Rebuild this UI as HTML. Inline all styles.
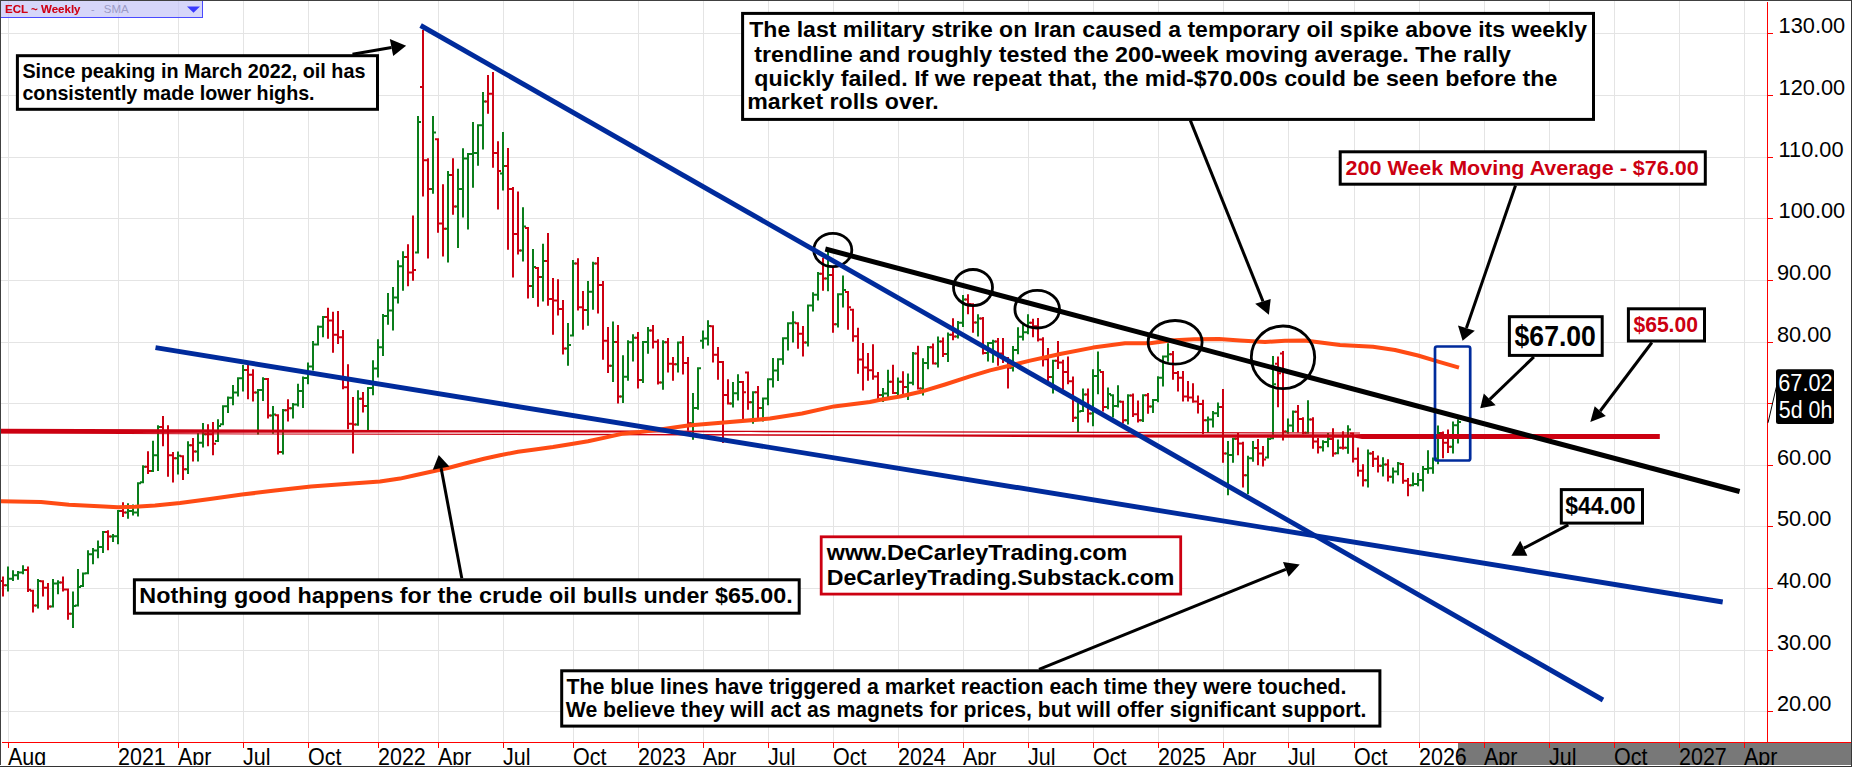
<!DOCTYPE html><html><head><meta charset="utf-8"><title>ECL Weekly</title>
<style>html,body{margin:0;padding:0;background:#fff}body{width:1852px;height:767px;overflow:hidden;position:relative}svg{position:absolute;left:0;top:0;display:block}text{font-family:"Liberation Sans",sans-serif}.b{font-weight:bold}</style></head><body>
<svg width="1852" height="767" viewBox="0 0 1852 767">
<rect x="0" y="0" width="1852" height="767" fill="#fff"/>
<path d="M8.5 1V742M118.5 1V742M178.5 1V742M243.5 1V742M308.5 1V742M378.5 1V742M438.5 1V742M503.5 1V742M573.5 1V742M638.5 1V742M703.5 1V742M768.5 1V742M833.5 1V742M898.5 1V742M963.5 1V742M1028.5 1V742M1093.5 1V742M1158.5 1V742M1223.5 1V742M1288.5 1V742M1354.5 1V742M1419.5 1V742M1484.5 1V742M1549.5 1V742M1614.5 1V742M1679.5 1V742M1744.5 1V742M1 711.5H1767M1 650.5H1767M1 588.5H1767M1 526.5H1767M1 465.5H1767M1 403.5H1767M1 342.5H1767M1 280.5H1767M1 218.5H1767M1 157.5H1767M1 95.5H1767M1 33.5H1767" stroke="#e4e4e4" stroke-width="1" fill="none" shape-rendering="crispEdges"/>
<rect x="1458" y="743" width="394" height="22" fill="#787878"/>
<path d="M7 566.5h2V591.5h-2zM5 584.2h2v2h-2zM9 577.8h2v2h-2zM12 570.2h2V580.9h-2zM10 577.8h2v2h-2zM14 574.2h2v2h-2zM17 570.9h2V579.8h-2zM15 574.2h2v2h-2zM19 571.5h2v2h-2zM22 565.3h2V574.2h-2zM20 571.5h2v2h-2zM24 569.0h2v2h-2zM37 579.1h2V608.6h-2zM35 604.5h2v2h-2zM39 580.0h2v2h-2zM52 579.1h2V607.5h-2zM50 605.5h2v2h-2zM54 582.6h2v2h-2zM57 580.2h2V594.2h-2zM55 582.6h2v2h-2zM59 581.5h2v2h-2zM72 591.5h2V627.9h-2zM70 612.8h2v2h-2zM74 605.1h2v2h-2zM77 569.1h2V606.4h-2zM75 604.4h2v2h-2zM79 586.1h2v2h-2zM82 572.4h2V587.1h-2zM80 585.1h2v2h-2zM84 572.4h2v2h-2zM87 550.3h2V574.2h-2zM85 572.2h2v2h-2zM89 553.3h2v2h-2zM92 548.0h2V564.2h-2zM90 553.3h2v2h-2zM94 549.6h2v2h-2zM97 540.5h2V558.2h-2zM95 549.6h2v2h-2zM99 546.0h2v2h-2zM102 531.0h2V553.1h-2zM100 546.0h2v2h-2zM104 531.0h2v2h-2zM112 533.9h2V542.1h-2zM110 535.6h2v2h-2zM114 535.2h2v2h-2zM117 509.9h2V544.3h-2zM115 535.2h2v2h-2zM119 509.9h2v2h-2zM127 503.3h2V518.8h-2zM125 511.6h2v2h-2zM129 509.9h2v2h-2zM132 504.4h2V515.5h-2zM130 509.9h2v2h-2zM134 511.6h2v2h-2zM137 482.2h2V516.6h-2zM135 511.6h2v2h-2zM139 482.2h2v2h-2zM142 465.2h2V483.3h-2zM140 481.3h2v2h-2zM144 465.7h2v2h-2zM152 440.8h2V472.0h-2zM150 469.9h2v2h-2zM154 454.2h2v2h-2zM157 425.3h2V471.0h-2zM155 454.2h2v2h-2zM159 426.0h2v2h-2zM177 451.4h2V474.4h-2zM175 457.3h2v2h-2zM179 454.8h2v2h-2zM187 441.2h2V474.0h-2zM185 468.2h2v2h-2zM189 444.2h2v2h-2zM197 433.0h2V461.4h-2zM195 450.5h2v2h-2zM199 441.7h2v2h-2zM202 423.0h2V447.5h-2zM200 441.7h2v2h-2zM204 433.3h2v2h-2zM217 419.3h2V441.9h-2zM215 439.9h2v2h-2zM219 425.0h2v2h-2zM222 405.3h2V425.3h-2zM220 423.3h2v2h-2zM224 405.3h2v2h-2zM227 396.5h2V413.1h-2zM225 405.3h2v2h-2zM229 396.8h2v2h-2zM232 384.9h2V405.3h-2zM230 396.8h2v2h-2zM234 391.6h2v2h-2zM237 377.2h2V396.5h-2zM235 391.6h2v2h-2zM239 377.2h2v2h-2zM242 365.0h2V391.4h-2zM240 377.2h2v2h-2zM244 369.0h2v2h-2zM257 389.1h2V434.6h-2zM255 391.6h2v2h-2zM259 389.1h2v2h-2zM262 377.2h2V400.9h-2zM260 389.1h2v2h-2zM264 378.0h2v2h-2zM272 406.0h2V433.7h-2zM270 414.5h2v2h-2zM274 413.5h2v2h-2zM282 409.1h2V454.5h-2zM280 451.0h2v2h-2zM284 409.3h2v2h-2zM292 403.1h2V418.6h-2zM290 407.2h2v2h-2zM294 403.4h2v2h-2zM297 383.8h2V406.4h-2zM295 403.4h2v2h-2zM299 390.0h2v2h-2zM302 376.5h2V408.0h-2zM300 390.0h2v2h-2zM304 376.9h2v2h-2zM307 362.5h2V384.3h-2zM305 376.9h2v2h-2zM309 365.4h2v2h-2zM312 341.0h2V370.5h-2zM310 365.4h2v2h-2zM314 343.5h2v2h-2zM317 325.5h2V345.5h-2zM315 343.5h2v2h-2zM319 325.8h2v2h-2zM322 316.0h2V337.3h-2zM320 325.8h2v2h-2zM324 316.0h2v2h-2zM357 390.2h2V425.7h-2zM355 423.5h2v2h-2zM359 397.8h2v2h-2zM367 386.9h2V430.1h-2zM365 405.1h2v2h-2zM369 386.9h2v2h-2zM372 360.3h2V395.3h-2zM370 386.9h2v2h-2zM374 367.5h2v2h-2zM377 339.2h2V377.6h-2zM375 367.5h2v2h-2zM379 346.2h2v2h-2zM382 314.0h2V355.9h-2zM380 346.2h2v2h-2zM384 314.9h2v2h-2zM387 292.9h2V324.8h-2zM385 314.9h2v2h-2zM389 309.5h2v2h-2zM392 287.0h2V330.6h-2zM390 309.5h2v2h-2zM394 296.5h2v2h-2zM397 260.2h2V303.5h-2zM395 296.5h2v2h-2zM399 265.3h2v2h-2zM402 251.3h2V290.8h-2zM400 265.3h2v2h-2zM404 255.9h2v2h-2zM417 116.0h2V253.5h-2zM415 251.5h2v2h-2zM419 121.0h2v2h-2zM432 116.0h2V193.7h-2zM430 188.1h2v2h-2zM434 131.6h2v2h-2zM447 171.0h2V262.6h-2zM445 227.7h2v2h-2zM449 174.1h2v2h-2zM457 168.8h2V248.0h-2zM455 205.4h2v2h-2zM459 188.1h2v2h-2zM462 148.2h2V217.6h-2zM460 188.1h2v2h-2zM464 157.4h2v2h-2zM467 152.9h2V229.4h-2zM465 157.4h2v2h-2zM469 152.9h2v2h-2zM472 122.0h2V187.7h-2zM470 152.9h2v2h-2zM474 151.9h2v2h-2zM477 124.2h2V165.7h-2zM475 151.9h2v2h-2zM479 124.3h2v2h-2zM482 92.0h2V149.6h-2zM480 124.3h2v2h-2zM484 100.4h2v2h-2zM502 132.0h2V190.6h-2zM500 172.4h2v2h-2zM504 165.1h2v2h-2zM522 207.2h2V261.5h-2zM520 249.6h2v2h-2zM524 225.6h2v2h-2zM532 249.1h2V297.9h-2zM530 285.0h2v2h-2zM534 266.0h2v2h-2zM542 243.8h2V301.5h-2zM540 276.0h2v2h-2zM544 259.9h2v2h-2zM567 323.1h2V365.7h-2zM565 347.6h2v2h-2zM569 344.0h2v2h-2zM572 260.0h2V336.5h-2zM570 334.5h2v2h-2zM574 262.4h2v2h-2zM587 281.0h2V325.8h-2zM585 308.9h2v2h-2zM589 290.8h2v2h-2zM592 261.7h2V309.8h-2zM590 290.8h2v2h-2zM594 262.4h2v2h-2zM612 321.4h2V381.9h-2zM610 364.7h2v2h-2zM614 340.9h2v2h-2zM622 355.3h2V403.0h-2zM620 395.6h2v2h-2zM624 375.7h2v2h-2zM627 340.2h2V380.8h-2zM625 375.7h2v2h-2zM629 341.3h2v2h-2zM632 334.2h2V361.5h-2zM630 341.3h2v2h-2zM634 336.7h2v2h-2zM642 340.9h2V383.0h-2zM640 378.9h2v2h-2zM644 340.9h2v2h-2zM647 327.1h2V353.7h-2zM645 340.9h2v2h-2zM649 329.4h2v2h-2zM662 340.2h2V389.7h-2zM660 381.6h2v2h-2zM664 341.3h2v2h-2zM677 341.6h2V372.6h-2zM675 363.2h2v2h-2zM679 341.6h2v2h-2zM692 393.0h2V439.7h-2zM690 422.2h2v2h-2zM694 407.0h2v2h-2zM697 367.2h2V409.7h-2zM695 407.0h2v2h-2zM699 367.3h2v2h-2zM702 330.4h2V348.7h-2zM700 339.7h2v2h-2zM704 337.4h2v2h-2zM707 320.3h2V345.6h-2zM705 337.4h2v2h-2zM709 324.9h2v2h-2zM732 382.0h2V407.6h-2zM730 402.6h2v2h-2zM734 392.3h2v2h-2zM737 374.2h2V400.6h-2zM735 392.3h2v2h-2zM739 380.9h2v2h-2zM752 391.3h2V423.7h-2zM750 401.3h2v2h-2zM754 391.3h2v2h-2zM762 397.5h2V421.5h-2zM760 407.0h2v2h-2zM764 397.6h2v2h-2zM767 378.2h2V405.3h-2zM765 397.6h2v2h-2zM769 378.2h2v2h-2zM772 358.1h2V387.6h-2zM770 378.2h2v2h-2zM774 369.4h2v2h-2zM777 358.3h2V380.9h-2zM775 369.4h2v2h-2zM779 358.3h2v2h-2zM782 337.2h2V364.7h-2zM780 358.3h2v2h-2zM784 337.2h2v2h-2zM787 322.2h2V350.5h-2zM785 337.2h2v2h-2zM789 322.2h2v2h-2zM792 311.2h2V342.6h-2zM790 322.2h2v2h-2zM794 321.4h2v2h-2zM807 304.6h2V346.4h-2zM805 341.6h2v2h-2zM809 304.6h2v2h-2zM812 292.3h2V311.5h-2zM810 304.6h2v2h-2zM814 293.7h2v2h-2zM817 272.1h2V300.5h-2zM815 293.7h2v2h-2zM819 272.8h2v2h-2zM827 251.5h2V291.2h-2zM825 277.4h2v2h-2zM829 273.9h2v2h-2zM837 293.2h2V327.6h-2zM835 323.3h2v2h-2zM839 293.2h2v2h-2zM842 275.5h2V307.4h-2zM840 293.2h2v2h-2zM844 288.9h2v2h-2zM882 388.1h2V402.0h-2zM880 393.9h2v2h-2zM884 392.6h2v2h-2zM887 369.7h2V398.5h-2zM885 392.6h2v2h-2zM889 380.7h2v2h-2zM897 377.5h2V396.3h-2zM895 392.1h2v2h-2zM899 380.7h2v2h-2zM907 373.5h2V400.0h-2zM905 386.0h2v2h-2zM909 381.8h2v2h-2zM912 352.0h2V385.2h-2zM910 381.8h2v2h-2zM914 352.6h2v2h-2zM922 358.2h2V395.6h-2zM920 387.6h2v2h-2zM924 362.0h2v2h-2zM927 346.0h2V369.2h-2zM925 362.0h2v2h-2zM929 346.3h2v2h-2zM937 336.4h2V367.5h-2zM935 362.6h2v2h-2zM939 340.5h2v2h-2zM947 332.4h2V361.9h-2zM945 353.0h2v2h-2zM949 333.8h2v2h-2zM957 320.9h2V338.6h-2zM955 335.4h2v2h-2zM959 321.7h2v2h-2zM962 295.0h2V326.9h-2zM960 321.7h2v2h-2zM964 298.5h2v2h-2zM977 314.3h2V336.4h-2zM975 321.4h2v2h-2zM979 317.6h2v2h-2zM987 342.0h2V361.5h-2zM985 352.1h2v2h-2zM989 342.0h2v2h-2zM992 339.8h2V362.7h-2zM990 342.0h2v2h-2zM994 340.6h2v2h-2zM1012 346.0h2V371.6h-2zM1010 366.7h2v2h-2zM1014 348.9h2v2h-2zM1017 327.2h2V354.3h-2zM1015 348.9h2v2h-2zM1019 335.8h2v2h-2zM1022 323.9h2V340.5h-2zM1020 335.8h2v2h-2zM1024 331.2h2v2h-2zM1027 314.3h2V334.3h-2zM1025 331.2h2v2h-2zM1029 321.8h2v2h-2zM1052 359.8h2V393.5h-2zM1050 376.1h2v2h-2zM1054 359.8h2v2h-2zM1077 403.0h2V431.9h-2zM1075 416.8h2v2h-2zM1079 410.5h2v2h-2zM1082 388.6h2V411.9h-2zM1080 409.9h2v2h-2zM1084 393.4h2v2h-2zM1092 369.3h2V426.3h-2zM1090 412.6h2v2h-2zM1094 375.0h2v2h-2zM1097 351.4h2V394.2h-2zM1095 375.0h2v2h-2zM1099 369.2h2v2h-2zM1107 387.5h2V409.2h-2zM1105 405.9h2v2h-2zM1109 393.0h2v2h-2zM1112 394.2h2V417.5h-2zM1110 394.2h2v2h-2zM1114 405.0h2v2h-2zM1117 385.3h2V407.5h-2zM1115 405.0h2v2h-2zM1119 400.4h2v2h-2zM1127 394.2h2V424.5h-2zM1125 419.2h2v2h-2zM1129 394.5h2v2h-2zM1142 394.2h2V421.9h-2zM1140 419.2h2v2h-2zM1144 394.2h2v2h-2zM1152 399.0h2V413.1h-2zM1150 405.6h2v2h-2zM1154 399.1h2v2h-2zM1157 376.2h2V402.2h-2zM1155 399.1h2v2h-2zM1159 376.8h2v2h-2zM1162 355.4h2V386.6h-2zM1160 376.8h2v2h-2zM1164 355.4h2v2h-2zM1167 343.2h2V361.8h-2zM1165 355.4h2v2h-2zM1169 353.2h2v2h-2zM1207 416.4h2V432.6h-2zM1205 419.2h2v2h-2zM1209 418.6h2v2h-2zM1212 410.9h2V427.5h-2zM1210 418.6h2v2h-2zM1214 412.3h2v2h-2zM1217 402.5h2V417.1h-2zM1215 412.3h2v2h-2zM1219 406.0h2v2h-2zM1227 441.0h2V495.3h-2zM1225 452.6h2v2h-2zM1229 454.0h2v2h-2zM1232 437.8h2V462.7h-2zM1230 454.0h2v2h-2zM1234 437.8h2v2h-2zM1247 455.8h2V494.2h-2zM1245 474.3h2v2h-2zM1249 457.2h2v2h-2zM1252 441.1h2V461.7h-2zM1250 457.2h2v2h-2zM1254 447.0h2v2h-2zM1267 437.8h2V458.6h-2zM1265 456.6h2v2h-2zM1269 438.0h2v2h-2zM1272 356.1h2V439.2h-2zM1270 437.2h2v2h-2zM1274 383.2h2v2h-2zM1287 418.5h2V433.8h-2zM1285 430.6h2v2h-2zM1289 424.4h2v2h-2zM1292 410.5h2V432.0h-2zM1290 424.4h2v2h-2zM1294 410.8h2v2h-2zM1307 400.3h2V433.8h-2zM1305 431.7h2v2h-2zM1309 418.5h2v2h-2zM1322 440.3h2V451.6h-2zM1320 446.3h2v2h-2zM1324 441.1h2v2h-2zM1327 433.1h2V447.2h-2zM1325 441.1h2v2h-2zM1329 437.9h2v2h-2zM1337 439.5h2V454.2h-2zM1335 452.2h2v2h-2zM1339 446.7h2v2h-2zM1347 425.2h2V453.7h-2zM1345 446.7h2v2h-2zM1349 428.6h2v2h-2zM1367 449.4h2V487.5h-2zM1365 479.3h2v2h-2zM1369 452.6h2v2h-2zM1382 457.2h2V476.5h-2zM1380 464.7h2v2h-2zM1384 463.4h2v2h-2zM1392 467.6h2V483.5h-2zM1390 475.8h2v2h-2zM1394 470.4h2v2h-2zM1397 462.0h2V475.3h-2zM1395 470.4h2v2h-2zM1399 462.6h2v2h-2zM1412 472.6h2V486.3h-2zM1410 484.2h2v2h-2zM1414 482.9h2v2h-2zM1417 473.0h2V486.3h-2zM1415 482.9h2v2h-2zM1419 479.0h2v2h-2zM1422 465.9h2V491.4h-2zM1420 479.0h2v2h-2zM1424 467.9h2v2h-2zM1427 450.2h2V473.7h-2zM1425 467.9h2v2h-2zM1429 467.2h2v2h-2zM1432 457.5h2V473.7h-2zM1430 467.2h2v2h-2zM1434 457.5h2v2h-2zM1437 425.4h2V464.2h-2zM1435 457.5h2v2h-2zM1439 432.0h2v2h-2zM1452 421.4h2V453.5h-2zM1450 445.7h2v2h-2zM1454 424.2h2v2h-2zM1457 419.2h2V443.5h-2zM1455 424.2h2v2h-2zM1459 421.0h2v2h-2z" fill="#0a7d1a"/>
<path d="M2 576.4h2V596.4h-2zM0 580.0h2v2h-2zM4 584.2h2v2h-2zM27 566.5h2V592.0h-2zM25 569.0h2v2h-2zM29 588.8h2v2h-2zM32 589.7h2V612.4h-2zM30 589.7h2v2h-2zM34 604.5h2v2h-2zM42 580.2h2V596.4h-2zM40 580.2h2v2h-2zM44 586.7h2v2h-2zM47 583.1h2V609.7h-2zM45 586.7h2v2h-2zM49 605.5h2v2h-2zM62 576.4h2V591.5h-2zM60 581.5h2v2h-2zM64 588.4h2v2h-2zM67 588.6h2V619.7h-2zM65 588.6h2v2h-2zM69 612.8h2v2h-2zM107 530.3h2V550.3h-2zM105 531.0h2v2h-2zM109 535.6h2v2h-2zM122 502.2h2V517.0h-2zM120 509.9h2v2h-2zM124 511.6h2v2h-2zM147 451.2h2V474.0h-2zM145 465.7h2v2h-2zM149 469.9h2v2h-2zM162 416.0h2V446.3h-2zM160 426.0h2v2h-2zM164 430.2h2v2h-2zM167 425.3h2V476.7h-2zM165 430.2h2v2h-2zM169 454.2h2v2h-2zM172 451.9h2V482.6h-2zM170 454.2h2v2h-2zM174 457.3h2v2h-2zM182 455.2h2V480.0h-2zM180 455.2h2v2h-2zM184 468.2h2v2h-2zM192 438.1h2V461.4h-2zM190 444.2h2v2h-2zM194 450.5h2v2h-2zM207 424.2h2V446.3h-2zM205 433.3h2v2h-2zM209 433.3h2v2h-2zM212 422.0h2V455.2h-2zM210 433.3h2v2h-2zM214 442.7h2v2h-2zM247 365.0h2V399.3h-2zM245 369.0h2v2h-2zM249 373.8h2v2h-2zM252 369.2h2V401.6h-2zM250 373.8h2v2h-2zM254 391.6h2v2h-2zM267 378.0h2V418.6h-2zM265 378.0h2v2h-2zM269 414.5h2v2h-2zM277 414.2h2V454.5h-2zM275 414.2h2v2h-2zM279 451.0h2v2h-2zM287 399.3h2V421.5h-2zM285 409.3h2v2h-2zM289 407.2h2v2h-2zM327 307.8h2V338.8h-2zM325 316.0h2v2h-2zM329 319.5h2v2h-2zM332 311.7h2V352.7h-2zM330 319.5h2v2h-2zM334 333.7h2v2h-2zM337 311.0h2V343.9h-2zM335 333.7h2v2h-2zM339 336.2h2v2h-2zM342 330.0h2V389.3h-2zM340 336.2h2v2h-2zM344 386.3h2v2h-2zM347 364.3h2V429.2h-2zM345 386.3h2v2h-2zM349 422.8h2v2h-2zM352 397.0h2V453.6h-2zM350 422.8h2v2h-2zM354 423.5h2v2h-2zM362 392.0h2V412.6h-2zM360 397.8h2v2h-2zM364 405.1h2v2h-2zM407 244.2h2V286.3h-2zM405 255.9h2v2h-2zM409 271.6h2v2h-2zM412 215.4h2V280.8h-2zM410 271.6h2v2h-2zM414 268.9h2v2h-2zM422 30.0h2V196.5h-2zM420 86.0h2v2h-2zM424 159.3h2v2h-2zM427 158.2h2V258.6h-2zM425 159.3h2v2h-2zM429 188.1h2v2h-2zM437 138.2h2V232.7h-2zM435 138.2h2v2h-2zM439 222.5h2v2h-2zM442 184.3h2V256.4h-2zM440 222.5h2v2h-2zM444 227.7h2v2h-2zM452 158.2h2V214.7h-2zM450 174.1h2v2h-2zM454 205.4h2v2h-2zM487 75.0h2V113.8h-2zM485 100.4h2v2h-2zM489 92.8h2v2h-2zM492 72.1h2V167.8h-2zM490 92.8h2v2h-2zM494 151.9h2v2h-2zM497 141.2h2V209.4h-2zM495 151.9h2v2h-2zM499 169.9h2v2h-2zM507 148.0h2V249.8h-2zM505 165.1h2v2h-2zM509 188.1h2v2h-2zM512 187.0h2V277.5h-2zM510 188.1h2v2h-2zM514 232.9h2v2h-2zM517 191.4h2V254.6h-2zM515 232.9h2v2h-2zM519 249.6h2v2h-2zM527 227.1h2V298.5h-2zM525 227.1h2v2h-2zM529 285.0h2v2h-2zM537 267.0h2V306.7h-2zM535 267.0h2v2h-2zM539 276.0h2v2h-2zM547 233.1h2V305.7h-2zM545 259.9h2v2h-2zM549 298.1h2v2h-2zM552 278.1h2V334.7h-2zM550 298.1h2v2h-2zM554 299.5h2v2h-2zM557 279.2h2V315.4h-2zM555 299.5h2v2h-2zM559 307.9h2v2h-2zM562 299.9h2V354.6h-2zM560 307.9h2v2h-2zM564 347.6h2v2h-2zM577 258.2h2V310.5h-2zM575 262.4h2v2h-2zM579 306.2h2v2h-2zM582 291.0h2V329.8h-2zM580 306.2h2v2h-2zM584 308.9h2v2h-2zM597 257.1h2V313.6h-2zM595 262.4h2v2h-2zM599 283.9h2v2h-2zM602 281.0h2V359.7h-2zM600 283.9h2v2h-2zM604 339.8h2v2h-2zM607 327.1h2V373.0h-2zM605 339.8h2v2h-2zM609 364.7h2v2h-2zM617 324.9h2V403.6h-2zM615 340.9h2v2h-2zM619 395.6h2v2h-2zM637 332.0h2V388.6h-2zM635 336.7h2v2h-2zM639 378.9h2v2h-2zM652 324.9h2V348.6h-2zM650 329.4h2v2h-2zM654 340.7h2v2h-2zM657 339.3h2V384.6h-2zM655 340.7h2v2h-2zM659 381.6h2v2h-2zM667 338.0h2V372.6h-2zM665 341.3h2v2h-2zM669 362.8h2v2h-2zM672 357.1h2V380.8h-2zM670 362.8h2v2h-2zM674 363.2h2v2h-2zM682 336.0h2V374.6h-2zM680 341.6h2v2h-2zM684 362.0h2v2h-2zM687 357.1h2V430.8h-2zM685 362.0h2v2h-2zM689 422.2h2v2h-2zM712 325.2h2V362.6h-2zM710 325.2h2v2h-2zM714 353.7h2v2h-2zM717 347.1h2V379.8h-2zM715 353.7h2v2h-2zM719 361.0h2v2h-2zM722 361.0h2V443.0h-2zM720 361.0h2v2h-2zM724 394.0h2v2h-2zM727 379.3h2V404.6h-2zM725 394.0h2v2h-2zM729 402.6h2v2h-2zM742 380.9h2V419.7h-2zM740 380.9h2v2h-2zM744 391.3h2v2h-2zM747 371.4h2V409.7h-2zM745 371.4h2v2h-2zM749 401.3h2v2h-2zM757 386.0h2V418.2h-2zM755 391.3h2v2h-2zM759 407.0h2v2h-2zM797 322.3h2V348.7h-2zM795 322.3h2v2h-2zM799 332.8h2v2h-2zM802 326.0h2V356.4h-2zM800 332.8h2v2h-2zM804 341.6h2v2h-2zM822 257.7h2V290.7h-2zM820 272.8h2v2h-2zM824 277.4h2v2h-2zM832 266.1h2V332.7h-2zM830 273.9h2v2h-2zM834 323.3h2v2h-2zM847 291.0h2V329.8h-2zM845 291.0h2v2h-2zM849 306.2h2v2h-2zM852 308.7h2V341.7h-2zM850 308.7h2v2h-2zM854 335.2h2v2h-2zM857 327.8h2V373.7h-2zM855 335.2h2v2h-2zM859 358.4h2v2h-2zM862 343.1h2V390.6h-2zM860 358.4h2v2h-2zM864 366.5h2v2h-2zM867 353.1h2V380.8h-2zM865 366.5h2v2h-2zM869 369.3h2v2h-2zM872 344.2h2V379.7h-2zM870 369.3h2v2h-2zM874 375.5h2v2h-2zM877 371.9h2V400.0h-2zM875 375.5h2v2h-2zM879 393.9h2v2h-2zM892 364.8h2V394.1h-2zM890 380.7h2v2h-2zM894 392.1h2v2h-2zM902 371.2h2V395.2h-2zM900 380.7h2v2h-2zM904 386.0h2v2h-2zM917 345.7h2V389.6h-2zM915 352.6h2v2h-2zM919 387.6h2v2h-2zM932 343.5h2V364.6h-2zM930 346.3h2v2h-2zM934 362.6h2v2h-2zM942 337.5h2V357.1h-2zM940 340.5h2v2h-2zM944 353.0h2v2h-2zM952 318.2h2V340.2h-2zM950 333.8h2v2h-2zM954 335.4h2v2h-2zM967 294.3h2V314.3h-2zM965 298.5h2v2h-2zM969 303.0h2v2h-2zM972 303.2h2V332.7h-2zM970 303.2h2v2h-2zM974 321.4h2v2h-2zM982 317.1h2V354.5h-2zM980 317.6h2v2h-2zM984 352.1h2v2h-2zM997 338.0h2V365.8h-2zM995 340.6h2v2h-2zM999 352.5h2v2h-2zM1002 338.0h2V363.1h-2zM1000 352.5h2v2h-2zM1004 357.3h2v2h-2zM1007 356.9h2V388.6h-2zM1005 357.3h2v2h-2zM1009 366.7h2v2h-2zM1032 318.8h2V337.2h-2zM1030 321.8h2v2h-2zM1034 325.3h2v2h-2zM1037 318.1h2V341.6h-2zM1035 325.3h2v2h-2zM1039 338.5h2v2h-2zM1042 337.2h2V366.5h-2zM1040 338.5h2v2h-2zM1044 358.3h2v2h-2zM1047 348.0h2V380.9h-2zM1045 358.3h2v2h-2zM1049 376.1h2v2h-2zM1057 341.0h2V369.1h-2zM1055 359.8h2v2h-2zM1059 361.5h2v2h-2zM1062 359.8h2V389.7h-2zM1060 361.5h2v2h-2zM1064 370.9h2v2h-2zM1067 356.5h2V384.2h-2zM1065 370.9h2v2h-2zM1069 380.3h2v2h-2zM1072 376.4h2V421.9h-2zM1070 380.3h2v2h-2zM1074 416.8h2v2h-2zM1087 388.6h2V422.5h-2zM1085 393.4h2v2h-2zM1089 412.6h2v2h-2zM1102 370.9h2V411.5h-2zM1100 370.9h2v2h-2zM1104 405.9h2v2h-2zM1122 400.8h2V423.4h-2zM1120 400.8h2v2h-2zM1124 419.2h2v2h-2zM1132 393.5h2V417.0h-2zM1130 394.5h2v2h-2zM1134 413.3h2v2h-2zM1137 400.4h2V422.5h-2zM1135 413.3h2v2h-2zM1139 419.2h2v2h-2zM1147 393.1h2V413.7h-2zM1145 394.2h2v2h-2zM1149 405.6h2v2h-2zM1172 351.0h2V379.8h-2zM1170 353.2h2v2h-2zM1174 372.0h2v2h-2zM1177 371.0h2V391.6h-2zM1175 372.0h2v2h-2zM1179 376.8h2v2h-2zM1182 371.0h2V401.6h-2zM1180 376.8h2v2h-2zM1184 395.6h2v2h-2zM1187 381.0h2V401.6h-2zM1185 395.6h2v2h-2zM1189 396.6h2v2h-2zM1192 383.2h2V402.7h-2zM1190 396.6h2v2h-2zM1194 400.4h2v2h-2zM1197 395.4h2V413.5h-2zM1195 400.4h2v2h-2zM1199 402.9h2v2h-2zM1202 399.8h2V434.2h-2zM1200 402.9h2v2h-2zM1204 419.2h2v2h-2zM1222 389.0h2V462.7h-2zM1220 406.0h2v2h-2zM1224 452.6h2v2h-2zM1237 433.1h2V455.3h-2zM1235 437.8h2v2h-2zM1239 442.6h2v2h-2zM1242 441.7h2V487.5h-2zM1240 442.6h2v2h-2zM1244 474.3h2v2h-2zM1257 439.0h2V465.3h-2zM1255 447.0h2v2h-2zM1259 452.6h2v2h-2zM1262 445.9h2V466.6h-2zM1260 452.6h2v2h-2zM1264 458.4h2v2h-2zM1277 356.6h2V407.3h-2zM1275 362.8h2v2h-2zM1279 372.2h2v2h-2zM1282 351.0h2V440.5h-2zM1280 352.4h2v2h-2zM1284 430.6h2v2h-2zM1297 405.1h2V432.5h-2zM1295 410.8h2v2h-2zM1299 418.1h2v2h-2zM1302 417.2h2V434.2h-2zM1300 418.1h2v2h-2zM1304 431.7h2v2h-2zM1312 417.2h2V448.8h-2zM1310 418.5h2v2h-2zM1314 440.5h2v2h-2zM1317 438.1h2V453.6h-2zM1315 440.5h2v2h-2zM1319 446.3h2v2h-2zM1332 428.2h2V456.7h-2zM1330 437.9h2v2h-2zM1334 452.6h2v2h-2zM1342 431.2h2V449.5h-2zM1340 446.7h2v2h-2zM1344 446.7h2v2h-2zM1352 432.5h2V462.5h-2zM1350 432.5h2v2h-2zM1354 457.8h2v2h-2zM1357 447.6h2V476.5h-2zM1355 457.8h2v2h-2zM1359 469.7h2v2h-2zM1362 464.3h2V486.4h-2zM1360 469.7h2v2h-2zM1364 479.3h2v2h-2zM1372 451.0h2V467.1h-2zM1370 452.6h2v2h-2zM1374 457.8h2v2h-2zM1377 455.4h2V472.5h-2zM1375 457.8h2v2h-2zM1379 464.7h2v2h-2zM1387 459.2h2V481.6h-2zM1385 463.4h2v2h-2zM1389 475.8h2v2h-2zM1402 463.1h2V483.7h-2zM1400 463.1h2v2h-2zM1404 479.8h2v2h-2zM1407 478.1h2V496.3h-2zM1405 479.8h2v2h-2zM1409 484.2h2v2h-2zM1442 431.4h2V458.2h-2zM1440 432.0h2v2h-2zM1444 441.8h2v2h-2zM1447 429.4h2V453.1h-2zM1445 441.8h2v2h-2zM1449 445.7h2v2h-2z" fill="#cc0011"/>
<polygon points="0,428.8 250,429.4 450,430.2 650,430.5 750,430.8 1100,431.7 1360,432.4 1360,433.6 1100,433.0 750,432.1 650,432.4 450,432.5 250,432.7 0,433.3" fill="#cc0011"/>
<polygon points="0,432.6 250,433.4 700,434.1 900,434.6 1100,434.5 1355,434.3 1362,434 1659.8,434 1659.8,439 1362,439 1355,437.8 1100,437.6 900,436.2 700,435.4 250,434.6 0,433.6" fill="#cc0011"/>
<polyline points="1,501.2 41,501.9 69,504.7 104,506.6 118,507.2 135,506.8 155,505.4 180,503 210,499 242,494.6 275,490.5 311,486.6 345,484 380,481.6 400,478.6 415,475.3 432,471.5 449,467.7 466,463.3 484,458.7 500,455.2 518,451.8 535,449.4 553,447 570,444.2 588,441.3 605,437.6 622,433.8 640,432.1 660,429.5 688,425.5 724,422.6 770,418.6 802,413.5 834,406.4 870,402 879,400 900,396.5 923,391.2 945,384.5 970,376.4 990,370.4 1029,360.9 1060,354 1093,347.6 1125,343.2 1150,343.3 1170,340.5 1194,339.2 1219,339.0 1240,340.5 1265,342 1285,340.8 1305,340.6 1340,344.9 1373,346.7 1395,350 1418,355.5 1440,362.2 1459,367.7" stroke="#ff4b14" stroke-width="4" fill="none" stroke-linejoin="round"/>
<ellipse cx="832.8" cy="250" rx="19.0" ry="16.6" stroke="#000" stroke-width="2.8" fill="none"/>
<ellipse cx="973" cy="287.6" rx="19.5" ry="18.1" stroke="#000" stroke-width="2.8" fill="none"/>
<ellipse cx="1037.2" cy="309.2" rx="22.3" ry="18.8" stroke="#000" stroke-width="2.8" fill="none"/>
<ellipse cx="1175.1" cy="342.3" rx="27.0" ry="21.8" stroke="#000" stroke-width="2.8" fill="none"/>
<ellipse cx="1283" cy="357.3" rx="31.700000000000003" ry="31.3" stroke="#000" stroke-width="2.8" fill="none"/>
<rect x="1435" y="346.5" width="35.2" height="114" rx="2" stroke="#002b9c" stroke-width="2.7" fill="none"/>
<path d="M420.6 25.5L1603 700" stroke="#002b9c" stroke-width="4.9" fill="none"/>
<path d="M155.5 347.7L1722.7 602" stroke="#002b9c" stroke-width="4.9" fill="none"/>
<path d="M825.3 249.0L1739.6 491.5" stroke="#000" stroke-width="5" fill="none"/>
<path d="M352.5 54.2L391.5 47.5" stroke="#000" stroke-width="3" fill="none"/>
<polygon points="389.8,39 406.1,45.8 393.2,55.9" fill="#000"/>
<path d="M1190.3 120.4L1263.0 301.4" stroke="#000" stroke-width="3" fill="none"/>
<polygon points="1255.2,303.8 1270.7,299 1268.9,314.7" fill="#000"/>
<path d="M1515.5 185.5L1466.4 328.0" stroke="#000" stroke-width="3" fill="none"/>
<polygon points="1458,325.4 1474.8,330.7 1462.6,340.7" fill="#000"/>
<path d="M1533.9 356.9L1489.8 399.4" stroke="#000" stroke-width="3" fill="none"/>
<polygon points="1483.8,393.5 1495.7,405.3 1480.2,408.3" fill="#000"/>
<path d="M1651.9 342.5L1600.2 411.0" stroke="#000" stroke-width="3" fill="none"/>
<polygon points="1594.7,406.2 1605.8,415.9 1590.3,422" fill="#000"/>
<path d="M1568.3 524.9L1523.8 548.2" stroke="#000" stroke-width="3" fill="none"/>
<polygon points="1520.2,540.8 1527.4,555.7 1511.4,555.7" fill="#000"/>
<path d="M461.8 578.2L441.1 468.1" stroke="#000" stroke-width="3" fill="none"/>
<polygon points="438.7,454.9 432.8,469.7 449.4,466.6" fill="#000"/>
<path d="M1039 669.3L1285.8 569.3" stroke="#000" stroke-width="3" fill="none"/>
<polygon points="1283,561.9 1299.7,564.4 1288.6,576.7" fill="#000"/>
<path d="M1767.5 2V742" stroke="#ff0000" stroke-width="1" shape-rendering="crispEdges"/>
<path d="M2 742.5H1852" stroke="#ff0000" stroke-width="1" shape-rendering="crispEdges"/>
<path d="M1768 711.5h5M1768 650.5h5M1768 588.5h5M1768 526.5h5M1768 465.5h5M1768 403.5h5M1768 342.5h5M1768 280.5h5M1768 218.5h5M1768 157.5h5M1768 95.5h5M1768 33.5h5M8.5 743v5M118.5 743v5M178.5 743v5M243.5 743v5M308.5 743v5M378.5 743v5M438.5 743v5M503.5 743v5M573.5 743v5M638.5 743v5M703.5 743v5M768.5 743v5M833.5 743v5M898.5 743v5M963.5 743v5M1028.5 743v5M1093.5 743v5M1158.5 743v5M1223.5 743v5M1288.5 743v5M1354.5 743v5M1419.5 743v5M1484.5 743v5M1549.5 743v5M1614.5 743v5M1679.5 743v5M1744.5 743v5" stroke="#ff0000" stroke-width="1" shape-rendering="crispEdges"/>
<text x="1776.9" y="711.0" font-size="21.8" transform="translate(0 711.0) scale(1 1.045) translate(0 -711.0)">20.00</text>
<text x="1776.9" y="650.0" font-size="21.8" transform="translate(0 650.0) scale(1 1.045) translate(0 -650.0)">30.00</text>
<text x="1776.9" y="588.0" font-size="21.8" transform="translate(0 588.0) scale(1 1.045) translate(0 -588.0)">40.00</text>
<text x="1776.9" y="526.0" font-size="21.8" transform="translate(0 526.0) scale(1 1.045) translate(0 -526.0)">50.00</text>
<text x="1776.9" y="465.0" font-size="21.8" transform="translate(0 465.0) scale(1 1.045) translate(0 -465.0)">60.00</text>
<text x="1776.9" y="403.0" font-size="21.8" transform="translate(0 403.0) scale(1 1.045) translate(0 -403.0)">70.00</text>
<text x="1776.9" y="342.0" font-size="21.8" transform="translate(0 342.0) scale(1 1.045) translate(0 -342.0)">80.00</text>
<text x="1776.9" y="280.0" font-size="21.8" transform="translate(0 280.0) scale(1 1.045) translate(0 -280.0)">90.00</text>
<text x="1778.6" y="218.0" font-size="21.8" transform="translate(0 218.0) scale(1 1.045) translate(0 -218.0)">100.00</text>
<text x="1778.6" y="157.0" font-size="21.8" transform="translate(0 157.0) scale(1 1.045) translate(0 -157.0)">110.00</text>
<text x="1778.6" y="95.0" font-size="21.8" transform="translate(0 95.0) scale(1 1.045) translate(0 -95.0)">120.00</text>
<text x="1778.6" y="33.0" font-size="21.8" transform="translate(0 33.0) scale(1 1.045) translate(0 -33.0)">130.00</text>
<text x="8" y="764.6" font-size="21.5" transform="translate(0 764.6) scale(1 1.095) translate(0 -764.6)">Aug</text>
<text x="118" y="764.6" font-size="21.5" transform="translate(0 764.6) scale(1 1.095) translate(0 -764.6)">2021</text>
<text x="178" y="764.6" font-size="21.5" transform="translate(0 764.6) scale(1 1.095) translate(0 -764.6)">Apr</text>
<text x="243" y="764.6" font-size="21.5" transform="translate(0 764.6) scale(1 1.095) translate(0 -764.6)">Jul</text>
<text x="308" y="764.6" font-size="21.5" transform="translate(0 764.6) scale(1 1.095) translate(0 -764.6)">Oct</text>
<text x="378" y="764.6" font-size="21.5" transform="translate(0 764.6) scale(1 1.095) translate(0 -764.6)">2022</text>
<text x="438" y="764.6" font-size="21.5" transform="translate(0 764.6) scale(1 1.095) translate(0 -764.6)">Apr</text>
<text x="503" y="764.6" font-size="21.5" transform="translate(0 764.6) scale(1 1.095) translate(0 -764.6)">Jul</text>
<text x="573" y="764.6" font-size="21.5" transform="translate(0 764.6) scale(1 1.095) translate(0 -764.6)">Oct</text>
<text x="638" y="764.6" font-size="21.5" transform="translate(0 764.6) scale(1 1.095) translate(0 -764.6)">2023</text>
<text x="703" y="764.6" font-size="21.5" transform="translate(0 764.6) scale(1 1.095) translate(0 -764.6)">Apr</text>
<text x="768" y="764.6" font-size="21.5" transform="translate(0 764.6) scale(1 1.095) translate(0 -764.6)">Jul</text>
<text x="833" y="764.6" font-size="21.5" transform="translate(0 764.6) scale(1 1.095) translate(0 -764.6)">Oct</text>
<text x="898" y="764.6" font-size="21.5" transform="translate(0 764.6) scale(1 1.095) translate(0 -764.6)">2024</text>
<text x="963" y="764.6" font-size="21.5" transform="translate(0 764.6) scale(1 1.095) translate(0 -764.6)">Apr</text>
<text x="1028" y="764.6" font-size="21.5" transform="translate(0 764.6) scale(1 1.095) translate(0 -764.6)">Jul</text>
<text x="1093" y="764.6" font-size="21.5" transform="translate(0 764.6) scale(1 1.095) translate(0 -764.6)">Oct</text>
<text x="1158" y="764.6" font-size="21.5" transform="translate(0 764.6) scale(1 1.095) translate(0 -764.6)">2025</text>
<text x="1223" y="764.6" font-size="21.5" transform="translate(0 764.6) scale(1 1.095) translate(0 -764.6)">Apr</text>
<text x="1288" y="764.6" font-size="21.5" transform="translate(0 764.6) scale(1 1.095) translate(0 -764.6)">Jul</text>
<text x="1354" y="764.6" font-size="21.5" transform="translate(0 764.6) scale(1 1.095) translate(0 -764.6)">Oct</text>
<text x="1419" y="764.6" font-size="21.5" transform="translate(0 764.6) scale(1 1.095) translate(0 -764.6)">2026</text>
<text x="1484" y="764.6" font-size="21.5" transform="translate(0 764.6) scale(1 1.095) translate(0 -764.6)">Apr</text>
<text x="1549" y="764.6" font-size="21.5" transform="translate(0 764.6) scale(1 1.095) translate(0 -764.6)">Jul</text>
<text x="1614" y="764.6" font-size="21.5" transform="translate(0 764.6) scale(1 1.095) translate(0 -764.6)">Oct</text>
<text x="1679" y="764.6" font-size="21.5" transform="translate(0 764.6) scale(1 1.095) translate(0 -764.6)">2027</text>
<text x="1744" y="764.6" font-size="21.5" transform="translate(0 764.6) scale(1 1.095) translate(0 -764.6)">Apr</text>
<path d="M1768 422.8L1776.3 387.2" stroke="#000" stroke-width="1"/>
<rect x="1776" y="369.3" width="58" height="54.6" rx="2.5" fill="#000"/>
<text x="1778.3" y="390.7" font-size="21" fill="#fff" textLength="54.3" lengthAdjust="spacingAndGlyphs" transform="translate(0 390.7) scale(1 1.1) translate(0 -390.7)">67.02</text>
<text x="1778.8" y="417.8" font-size="21" fill="#fff" textLength="53.6" lengthAdjust="spacingAndGlyphs" transform="translate(0 417.8) scale(1 1.1) translate(0 -417.8)">5d 0h</text>
<rect x="17.4" y="55.7" width="360.1" height="53.6" fill="#fff" stroke="#000" stroke-width="3"/>
<text class="b" x="22.4" y="77.6" font-size="19.8" fill="#000" textLength="343" lengthAdjust="spacingAndGlyphs" transform="translate(0 77.6) scale(1 1.06) translate(0 -77.6)">Since peaking in March 2022, oil has</text>
<text class="b" x="22.4" y="100" font-size="19.8" fill="#000" textLength="292.2" lengthAdjust="spacingAndGlyphs" transform="translate(0 100) scale(1 1.06) translate(0 -100)">consistently made lower highs.</text>
<rect x="742.6" y="13.4" width="850.9" height="106.0" fill="#fff" stroke="#000" stroke-width="3"/>
<text class="b" x="749.3" y="37.2" font-size="23" fill="#000" textLength="837.8" lengthAdjust="spacingAndGlyphs" transform="translate(0 37.2) scale(1 0.97) translate(0 -37.2)">The last military strike on Iran caused a temporary oil spike above its weekly</text>
<text class="b" x="754.3" y="61.6" font-size="23" fill="#000" textLength="756.7" lengthAdjust="spacingAndGlyphs" transform="translate(0 61.6) scale(1 0.97) translate(0 -61.6)">trendline and roughly tested the 200-week moving average. The rally</text>
<text class="b" x="754.3" y="86.0" font-size="23" fill="#000" textLength="803.1" lengthAdjust="spacingAndGlyphs" transform="translate(0 86.0) scale(1 0.97) translate(0 -86.0)">quickly failed. If we repeat that, the mid-$70.00s could be seen before the</text>
<text class="b" x="747.3" y="109.3" font-size="23" fill="#000" textLength="191.5" lengthAdjust="spacingAndGlyphs" transform="translate(0 109.3) scale(1 0.97) translate(0 -109.3)">market rolls over.</text>
<rect x="1340.2" y="151.8" width="365.1" height="32.4" fill="#fff" stroke="#000" stroke-width="3"/>
<text class="b" x="1345.6" y="174.6" font-size="21.5" fill="#cc0011" textLength="353" lengthAdjust="spacingAndGlyphs" transform="translate(0 174.6) scale(1 0.97) translate(0 -174.6)">200 Week Moving Average - $76.00</text>
<rect x="134.4" y="579.8" width="664.8" height="33.4" fill="#fff" stroke="#000" stroke-width="3"/>
<text class="b" x="139.3" y="603.5" font-size="23.3" fill="#000" textLength="653.5" lengthAdjust="spacingAndGlyphs" transform="translate(0 603.5) scale(1 0.97) translate(0 -603.5)">Nothing good happens for the crude oil bulls under $65.00.</text>
<rect x="821.2" y="536.8" width="359.5" height="57.3" fill="#fff" stroke="#cc0011" stroke-width="2.8"/>
<text class="b" x="826.7" y="560.3" font-size="23.3" fill="#000" textLength="300.7" lengthAdjust="spacingAndGlyphs" transform="translate(0 560.3) scale(1 0.97) translate(0 -560.3)">www.DeCarleyTrading.com</text>
<text class="b" x="826.7" y="584.6" font-size="23.2" fill="#000" textLength="347.7" lengthAdjust="spacingAndGlyphs" transform="translate(0 584.6) scale(1 0.97) translate(0 -584.6)">DeCarleyTrading.Substack.com</text>
<rect x="561.7" y="670.8" width="818.2" height="55.3" fill="#fff" stroke="#000" stroke-width="3"/>
<text class="b" x="566.5" y="693.7" font-size="21.3" fill="#000" textLength="780" lengthAdjust="spacingAndGlyphs">The blue lines have triggered a market reaction each time they were touched.</text>
<text class="b" x="565.8" y="716.8" font-size="21.2" fill="#000" textLength="800.6" lengthAdjust="spacingAndGlyphs">We believe they will act as magnets for prices, but will offer significant support.</text>
<rect x="1509.4" y="316.7" width="92.8" height="38.7" fill="#fff" stroke="#000" stroke-width="3"/>
<text class="b" x="1514.6" y="346" font-size="26.6" fill="#000" textLength="81.3" lengthAdjust="spacingAndGlyphs" transform="translate(0 346) scale(1 1.11) translate(0 -346)">$67.00</text>
<rect x="1628.4" y="308.8" width="76.1" height="32.2" fill="#fff" stroke="#000" stroke-width="3"/>
<text class="b" x="1633.4" y="332.3" font-size="21.1" fill="#cc0011" textLength="64.6" lengthAdjust="spacingAndGlyphs" transform="translate(0 332.3) scale(1 1.04) translate(0 -332.3)">$65.00</text>
<rect x="1561.3" y="489.6" width="81.2" height="33.5" fill="#fff" stroke="#000" stroke-width="3"/>
<text class="b" x="1565.3" y="514" font-size="23" fill="#000" textLength="70.2" lengthAdjust="spacingAndGlyphs" transform="translate(0 514) scale(1 1.02) translate(0 -514)">$44.00</text>
<rect x="1" y="1" width="201.5" height="16.5" fill="#d6d6f9"/>
<path d="M8.5 1V17M118.5 1V17M178.5 1V17" stroke="#cdcdf1" stroke-width="1" shape-rendering="crispEdges"/>
<path d="M1 17.5H202.5V1" stroke="#4a4aff" stroke-width="1" fill="none" shape-rendering="crispEdges"/>
<text class="b" x="5" y="13.2" font-size="10.6" fill="#d40014" textLength="75.5" lengthAdjust="spacingAndGlyphs" style="filter:drop-shadow(0.8px 0.4px 0 #b49cb8)">ECL ~ Weekly</text>
<text x="91" y="13.2" font-size="10.6" fill="#9c9cc6">-</text>
<text x="103.7" y="13.2" font-size="10.6" fill="#9c9cc6" textLength="25" lengthAdjust="spacingAndGlyphs">SMA</text>
<polygon points="187,6.6 200,6.6 193.5,12.8" fill="#3a3aff"/>
<rect x="0" y="0" width="1852" height="1" fill="#404040"/>
<rect x="0" y="0" width="1" height="767" fill="#404040"/>
<rect x="0" y="765" width="1852" height="1" fill="#fff"/>
<rect x="0" y="766" width="1852" height="1" fill="#333"/>
<rect x="1851" y="0" width="1" height="767" fill="#383838"/>
</svg></body></html>
